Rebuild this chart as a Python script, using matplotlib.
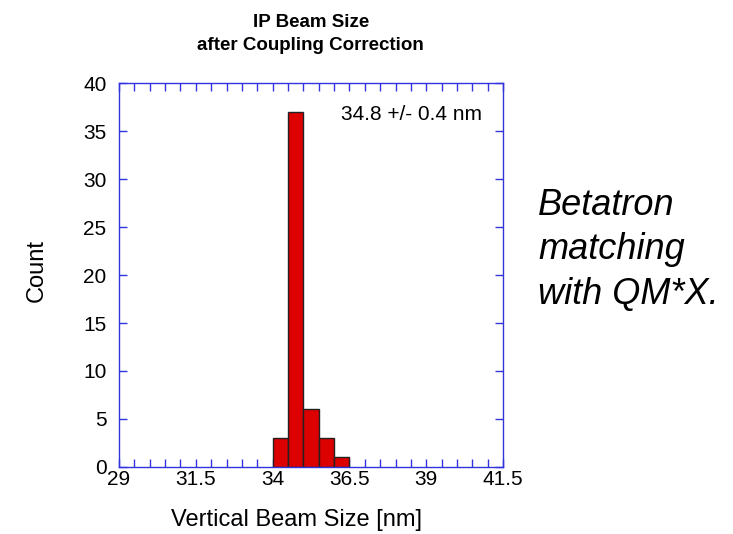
import numpy as np
import matplotlib
matplotlib.use("Agg")
import matplotlib.pyplot as plt
from matplotlib.ticker import MultipleLocator

plt.rcParams['font.family'] = ['Liberation Sans', 'DejaVu Sans']

# histogram data
bin_edges = [34.0, 34.5, 35.0, 35.5, 36.0, 36.5]
counts = [3, 37, 6, 3, 1]
x_ticks = [29, 31.5, 34, 36.5, 39, 41.5]
x_tick_labels = ["29", "31.5", "34", "36.5", "39", "41.5"]
y_ticks = [0, 5, 10, 15, 20, 25, 30, 35, 40]

fig = plt.figure(figsize=(7.33, 5.34), dpi=100)
ax = fig.add_axes([0.1623, 0.1255, 0.524, 0.719])

widths = np.diff(bin_edges)
ax.bar(bin_edges[:-1], counts, width=widths, align='edge',
       color='#DD0000', edgecolor='#222222', linewidth=1.0, zorder=2)

ax.set_xlim(29, 41.5)
ax.set_ylim(0, 40)
ax.set_xticks(x_ticks)
ax.set_xticklabels(x_tick_labels)
ax.set_yticks(y_ticks)
ax.xaxis.set_minor_locator(MultipleLocator(0.5))

blue = '#3333DD'
for s in ax.spines.values():
    s.set_color(blue)
    s.set_linewidth(1.0)
ax.tick_params(which='both', direction='in', color=blue, top=True, right=True,
               labelsize=15, width=1.0, length=6)
ax.tick_params(axis='x', pad=2)
ax.tick_params(axis='y', pad=9)

# labels and titles
fig.text(0.405, 0.026, "Vertical Beam Size [nm]", fontsize=17,
         ha='center', va='center')
fig.text(0.05, 0.494, "Count", fontsize=17, rotation=90,
         ha='center', va='center')
fig.text(0.424, 0.936, "IP Beam Size\nafter Coupling Correction", fontsize=13.5,
         fontweight='bold', ha='center', va='center', linespacing=1.5)

ax.text(0.945, 0.918, "34.8 +/- 0.4 nm", transform=ax.transAxes,
        ha='right', va='center', fontsize=15)

fig.text(0.734, 0.532, "Betatron\nmatching\nwith QM*X.", fontsize=26,
         style='italic', ha='left', va='center', linespacing=1.35)

fig.savefig("out.png", dpi=100)
